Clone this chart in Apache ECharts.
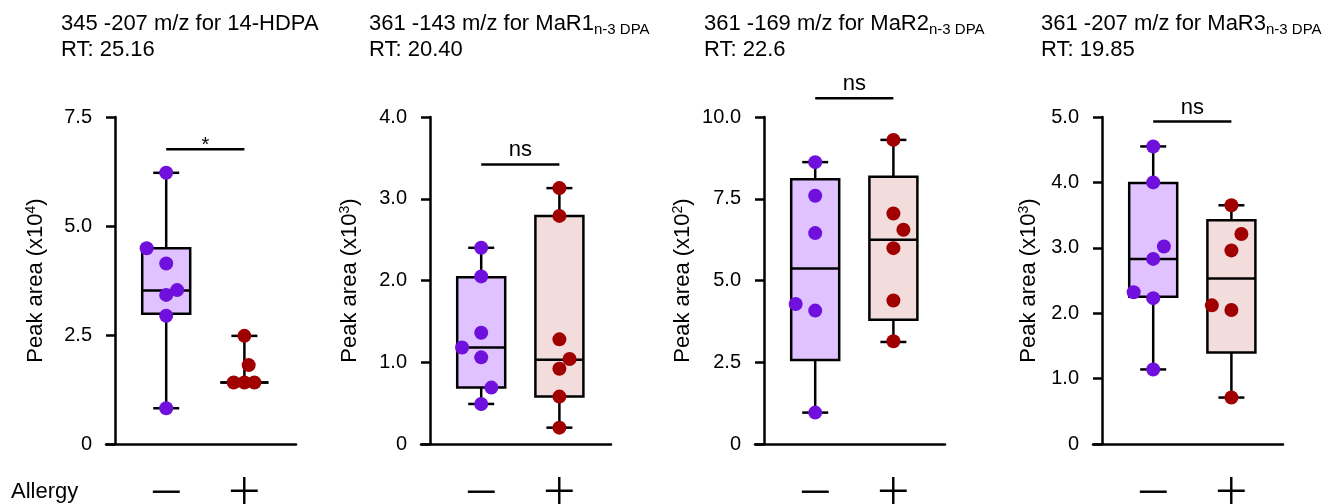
<!DOCTYPE html>
<html>
<head>
<meta charset="utf-8">
<script src="https://cdn.jsdelivr.net/npm/echarts@6/dist/echarts.min.js"></script>
<style>
html, body { margin: 0; background: #fff; }
#main { width: 1335px; height: 504px; }
</style>
</head>
<body>
<div id="main"></div>
<script>
// groups on the x axis (Allergy - / +)
var groups = ['\u2212', '+'];

var titleLine1 = ['345 -207 m/z for 14-HDPA', '361 -143 m/z for MaR1{sub|n-3 DPA}', '361 -169 m/z for MaR2{sub|n-3 DPA}', '361 -207 m/z for MaR3{sub|n-3 DPA}'];
var titleLine2 = ['RT: 25.16', 'RT: 20.40', 'RT: 22.6', 'RT: 19.85'];
var yPower = ['4', '3', '2', '3'];
var yMax = [7.5, 4, 10, 5];
var yStep = [2.5, 1, 2.5, 1];

// box stats: [min, q1, median, q3, max]
var boxMinus = [
  [0.82, 2.99, 3.52, 4.49, 6.22],
  [0.49, 0.69, 1.18, 2.04, 2.40],
  [0.96, 2.57, 5.37, 8.10, 8.62],
  [1.14, 2.25, 2.83, 3.99, 4.55]
];
var boxPlus = [
  [1.41, 1.41, 1.41, 1.41, 2.48],
  [0.20, 0.58, 1.03, 2.79, 3.13],
  [3.12, 3.80, 6.25, 8.17, 9.30],
  [0.71, 1.40, 2.53, 3.42, 3.65]
];

// individual points and their horizontal offsets (in category units)
var ptsMinus = [
  [6.22, 4.49, 4.14, 3.53, 3.42, 2.94, 0.82],
  [2.40, 2.05, 1.36, 1.18, 1.06, 0.69, 0.49],
  [8.62, 7.59, 6.45, 4.28, 4.08, 0.96],
  [4.55, 4.00, 3.02, 2.83, 2.32, 2.23, 1.14]
];
var jitMinus = [
  [0, -0.25, 0, 0.14, 0, 0, 0],
  [0, 0, 0, -0.245, 0, 0.13, 0],
  [0, 0, 0, -0.25, 0, 0],
  [0, 0, 0.137, 0, -0.25, 0, 0]
];
var ptsPlus = [
  [2.48, 1.81, 1.41, 1.41, 1.41],
  [3.13, 2.79, 1.28, 1.04, 0.92, 0.58, 0.20],
  [9.30, 7.05, 6.55, 5.99, 4.39, 3.14],
  [3.65, 3.21, 2.96, 2.12, 2.05, 0.71]
];
var jitPlus = [
  [0, 0.055, -0.137, 0, 0.128],
  [0, 0, 0, 0.13, 0, 0, 0],
  [0, 0, 0.128, 0, 0, 0],
  [0, 0.128, 0, -0.25, 0, 0]
];

var sigLevel = [6.76, 3.42, 10.57, 4.93];
var sigText = ['*', 'ns', 'ns', 'ns'];

var minusColor = '#7010DC', minusFill = '#DFC2FF';
var plusColor = '#A00000', plusFill = '#F2DCDC';
var FONT = 'Liberation Sans';
var LW = 2.5;

var gridLeft = [106, 421, 755, 1093];
var titleLeft = [61, 369, 704, 1041];
var nameGap = [67, 68, 69, 61];

var chart = echarts.init(document.getElementById('main'));

function renderBox(params, api) {
  var x = api.value(0);
  var lo = api.coord([x, api.value(1)]);
  var q1 = api.coord([x, api.value(2)]);
  var md = api.coord([x, api.value(3)]);
  var q3 = api.coord([x, api.value(4)]);
  var hi = api.coord([x, api.value(5)]);
  var cx = lo[0];
  var ln = { stroke: '#000', lineWidth: LW };
  return {
    type: 'group',
    children: [
      { type: 'line', shape: { x1: cx, y1: hi[1], x2: cx, y2: q3[1] }, style: ln },
      { type: 'line', shape: { x1: cx, y1: q1[1], x2: cx, y2: lo[1] }, style: ln },
      { type: 'line', shape: { x1: cx - 13, y1: hi[1], x2: cx + 13, y2: hi[1] }, style: ln },
      { type: 'line', shape: { x1: cx - 13, y1: lo[1], x2: cx + 13, y2: lo[1] }, style: ln },
      { type: 'rect', shape: { x: cx - 24, y: q3[1], width: 48, height: q1[1] - q3[1] },
        style: { fill: api.visual('color'), stroke: '#000', lineWidth: LW } },
      { type: 'line', shape: { x1: cx - 24, y1: md[1], x2: cx + 24, y2: md[1] }, style: ln }
    ]
  };
}

function sigRenderer(k) {
  return function (params, api) {
    var a = api.coord([api.value(0), api.value(2)]);
    var b = api.coord([api.value(1), api.value(2)]);
    var star = sigText[k] === '*';
    return {
      type: 'group',
      children: [
        { type: 'line', shape: { x1: a[0], y1: a[1], x2: b[0], y2: b[1] }, style: { stroke: '#000', lineWidth: LW } },
        { type: 'text', x: (a[0] + b[0]) / 2, y: a[1] + (star ? 6 : -3),
          style: { text: sigText[k], fill: '#000', align: 'center', verticalAlign: 'bottom',
                   font: (star ? '20px ' : '22px ') + '"' + FONT + '"' } }
      ]
    };
  };
}

var option = {
  animation: false,
  backgroundColor: '#fff',
  textStyle: { fontFamily: FONT },
  title: [],
  grid: [],
  xAxis: [],
  yAxis: [],
  series: []
};

for (var k = 0; k < 4; k++) {
  option.title.push({
    left: titleLeft[k], top: 11, padding: 0,
    text: titleLine1[k] + '\n' + titleLine2[k],
    textStyle: {
      fontFamily: FONT, fontSize: 22, fontWeight: 'normal', color: '#000', lineHeight: 26,
      rich: { sub: { fontFamily: FONT, fontSize: 15, lineHeight: 15, verticalAlign: 'bottom', color: '#000' } }
    }
  });
  option.grid.push({ left: gridLeft[k], top: 117, width: 190, height: 327, outerBoundsMode: 'none', containLabel: false });
  option.xAxis.push({
    gridIndex: k, type: 'value', min: -0.77, max: 1.66,
    splitLine: { show: false },
    axisLine: { onZero: false, lineStyle: { color: '#000', width: LW } },
    axisTick: { show: false },
    axisLabel: {
      customValues: [0, 1], margin: 22,
      formatter: function (v) { return groups[Math.round(v)]; },
      fontFamily: 'Open Sans', fontWeight: 300, fontSize: 58, color: '#000'
    }
  });
  option.yAxis.push({
    gridIndex: k, type: 'value', min: 0, max: yMax[k], interval: yStep[k], offset: -9,
    name: 'Peak area (x10{sup|' + yPower[k] + '})', nameLocation: 'middle', nameGap: nameGap[k],
    nameTextStyle: {
      fontFamily: FONT, fontSize: 22, color: '#000', lineHeight: 24,
      rich: { sup: { fontFamily: FONT, fontSize: 14, lineHeight: 12, verticalAlign: 'top', color: '#000' } }
    },
    splitLine: { show: false },
    axisLine: { onZero: false, lineStyle: { color: '#000', width: LW } },
    axisTick: { length: 9, lineStyle: { color: '#000', width: LW } },
    axisLabel: {
      margin: 23, fontFamily: FONT, fontSize: 20, color: '#000',
      formatter: function (v) { return v === 0 ? '0' : v.toFixed(1); }
    }
  });
  option.series.push({
    type: 'custom', xAxisIndex: k, yAxisIndex: k, z: 2,
    renderItem: renderBox,
    encode: { x: 0, y: [1, 2, 3, 4, 5] },
    data: [
      { value: [0].concat(boxMinus[k]), itemStyle: { color: minusFill } },
      { value: [1].concat(boxPlus[k]), itemStyle: { color: plusFill } }
    ]
  });
  option.series.push({
    type: 'scatter', xAxisIndex: k, yAxisIndex: k, z: 3, symbolSize: 14,
    itemStyle: { color: minusColor, opacity: 1 },
    data: ptsMinus[k].map(function (v, i) { return [0 + jitMinus[k][i], v]; })
  });
  option.series.push({
    type: 'scatter', xAxisIndex: k, yAxisIndex: k, z: 3, symbolSize: 14,
    itemStyle: { color: plusColor, opacity: 1 },
    data: ptsPlus[k].map(function (v, i) { return [1 + jitPlus[k][i], v]; })
  });
  option.series.push({
    type: 'custom', xAxisIndex: k, yAxisIndex: k, z: 4, clip: false,
    renderItem: sigRenderer(k),
    encode: { x: [0, 1], y: 2 },
    data: [[0, 1, sigLevel[k]]]
  });
}

option.title.push({
  left: 11, top: 480, padding: 0, text: 'Allergy',
  textStyle: { fontFamily: FONT, fontSize: 22, fontWeight: 'normal', color: '#000', lineHeight: 24 }
});

chart.setOption(option);
</script>
</body>
</html>
